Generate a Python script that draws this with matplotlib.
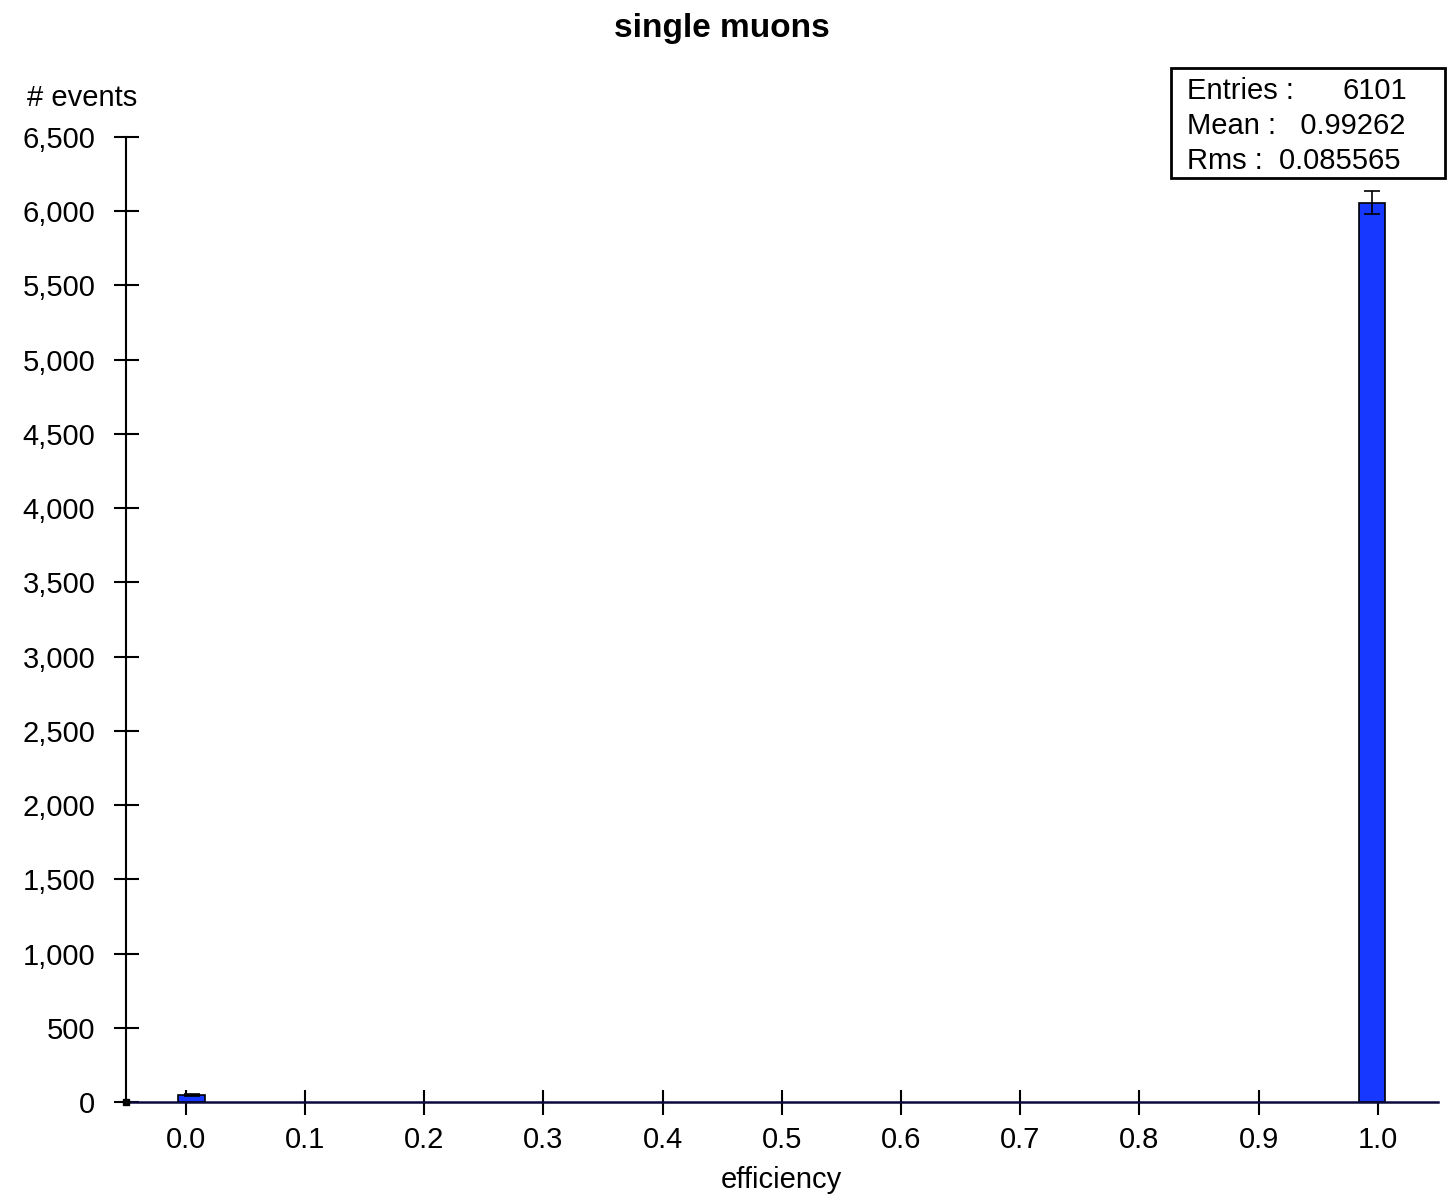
import numpy as np
import matplotlib
matplotlib.use("Agg")
import matplotlib.pyplot as plt
from matplotlib.ticker import FuncFormatter

plt.rcParams['font.family'] = ['Liberation Sans', 'DejaVu Sans']

# histogram data (50 bins over -0.05..1.05, only two non-empty)
bin_centers = [0.005, 0.995]
counts = [45, 6056]
bin_width = 0.022
entries = 6101
mean = 0.99262
rms = 0.085565

x_ticks = [0.0, 0.1, 0.2, 0.3, 0.4, 0.5, 0.6, 0.7, 0.8, 0.9, 1.0]
y_ticks = list(range(0, 7000, 500))

fig = plt.figure(figsize=(14.55, 11.96), dpi=100)
ax = fig.add_axes([0.0866, 0.0786, 0.9014, 0.8069])

errs = np.sqrt(counts)
ax.bar(bin_centers, counts, width=bin_width, color='#1638ff', edgecolor='black',
       linewidth=1.2, zorder=2)
ax.errorbar(bin_centers, counts, yerr=errs, fmt='none', ecolor='black',
            elinewidth=1.2, capsize=6, capthick=1.2, zorder=3)

ax.set_xlim(-0.05, 1.05)
ax.set_ylim(0, 6500)
ax.set_xticks(x_ticks)
ax.set_xticklabels([f"{v:.1f}" for v in x_ticks])
ax.set_yticks(y_ticks)
ax.yaxis.set_major_formatter(FuncFormatter(lambda v, p: f"{int(v):,}"))

for s in ['top', 'right']:
    ax.spines[s].set_visible(False)
ax.spines['left'].set_color('black')
ax.spines['left'].set_linewidth(1.5)
ax.spines['bottom'].set_color('#0a0a3c')
ax.spines['bottom'].set_linewidth(1.8)
ax.spines['bottom'].set_zorder(4)

ax.tick_params(axis='both', direction='inout', length=18, width=1.5,
               labelsize=21, color='black')
ax.tick_params(axis='y', pad=13)
ax.tick_params(axis='x', pad=8)

# small marker at origin
ax.plot([-0.05], [0], marker='s', color='black', markersize=4, clip_on=False, zorder=5)

ax.set_xlabel('efficiency', fontsize=21, labelpad=9)
fig.text(0.0185, 0.918, '# events', fontsize=21, ha='left', va='center')
fig.text(0.496, 0.976, 'single muons', fontsize=24, fontweight='bold',
         ha='center', va='center')

# stats box
box = plt.Rectangle((0.805, 0.851), 0.188, 0.092, transform=fig.transFigure,
                    fill=False, edgecolor='black', linewidth=2)
fig.add_artist(box)
fig.text(0.816, 0.924, 'Entries :', fontsize=21, ha='left', va='center')
fig.text(0.967, 0.924, f'{entries}', fontsize=21, ha='right', va='center')
fig.text(0.816, 0.895, f'Mean :   {mean}', fontsize=21, ha='left', va='center')
fig.text(0.816, 0.865, f'Rms :  {rms}', fontsize=21, ha='left', va='center')

fig.savefig('out.png', dpi=100)
